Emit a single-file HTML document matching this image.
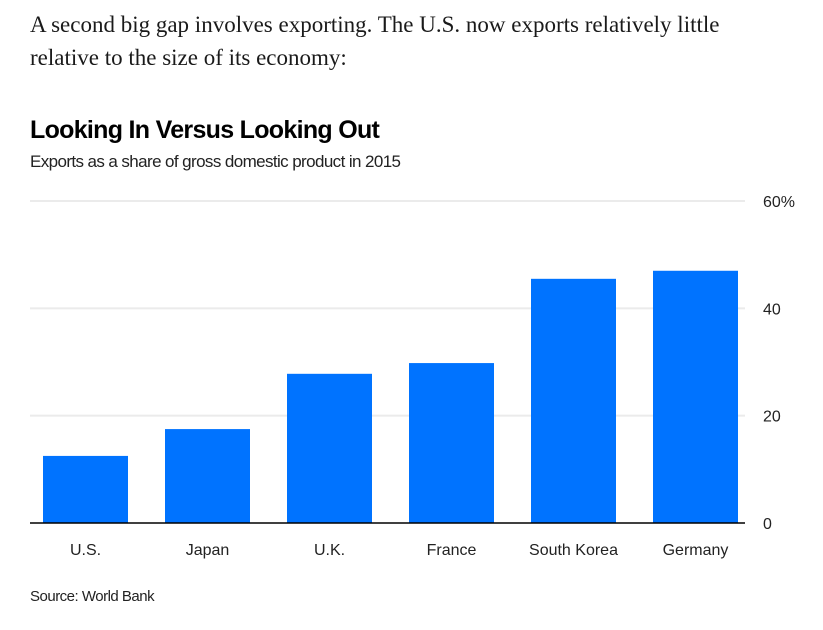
<!DOCTYPE html>
<html><head><meta charset="utf-8"><style>
body{margin:0;width:823px;height:630px;background:#fff;overflow:hidden;font-family:"Liberation Sans",sans-serif;}
.intro{position:absolute;left:30px;top:8px;width:750px;font-family:"Liberation Serif",serif;font-size:23px;line-height:33px;color:#1a1a1a;}
.title{position:absolute;left:30px;top:116px;font-size:25px;font-weight:bold;color:#000;letter-spacing:-0.7px;}
.sub{position:absolute;left:30px;top:152px;font-size:17px;color:#222;letter-spacing:-0.6px;}
.src{position:absolute;left:30px;top:588px;font-size:15px;color:#222;letter-spacing:-0.5px;}
svg{position:absolute;left:0;top:0;}
</style></head><body>
<div class="intro">A second big gap involves exporting. The U.S. now exports relatively little relative to the size of its economy:</div>
<div class="title">Looking In Versus Looking Out</div>
<div class="sub">Exports as a share of gross domestic product in 2015</div>
<div class="src">Source: World Bank</div>
<svg id="chart" width="823" height="630"></svg>
<script>
const categories=["U.S.","Japan","U.K.","France","South Korea","Germany"];
const values=[12.5,17.5,27.8,29.8,45.5,47.0];
const ticks=[0,20,40,60];
const tickLabels=["0","20","40","60%"];
const NS="http://www.w3.org/2000/svg";
const svg=document.getElementById("chart");
const y0=523,ppu=(523-201)/60;
const y=v=>y0-v*ppu;
const left=30,step=122,bw=85,first=43;
const x=i=>first+i*step;
function mk(t,a){const e=document.createElementNS(NS,t);for(const k in a)e.setAttribute(k,a[k]);svg.appendChild(e);return e;}
ticks.forEach((t,i)=>{
  if(t!==0){const l=mk("line",{x1:left,x2:745,y1:y(t),y2:y(t),stroke:"#ebebeb","stroke-width":2});
  
  }
  const tx=mk("text",{x:763,y:y(t)+6,"font-size":16,fill:"#222","font-family":"Liberation Sans, sans-serif"});
  tx.textContent=tickLabels[i];
  
  
});
values.forEach((v,i)=>{
  const r=mk("rect",{x:x(i),y:y(v),width:bw,height:y0-y(v),fill:"#0073ff"});
  
  
  const t=mk("text",{x:x(i)+bw/2,y:555,"text-anchor":"middle","font-size":16,fill:"#222","font-family":"Liberation Sans, sans-serif"});
  t.textContent=categories[i];
  
  
});
const ax=mk("line",{x1:left,x2:745,y1:y0,y2:y0,stroke:"#000","stroke-width":1.5});


</script>
</body></html>
